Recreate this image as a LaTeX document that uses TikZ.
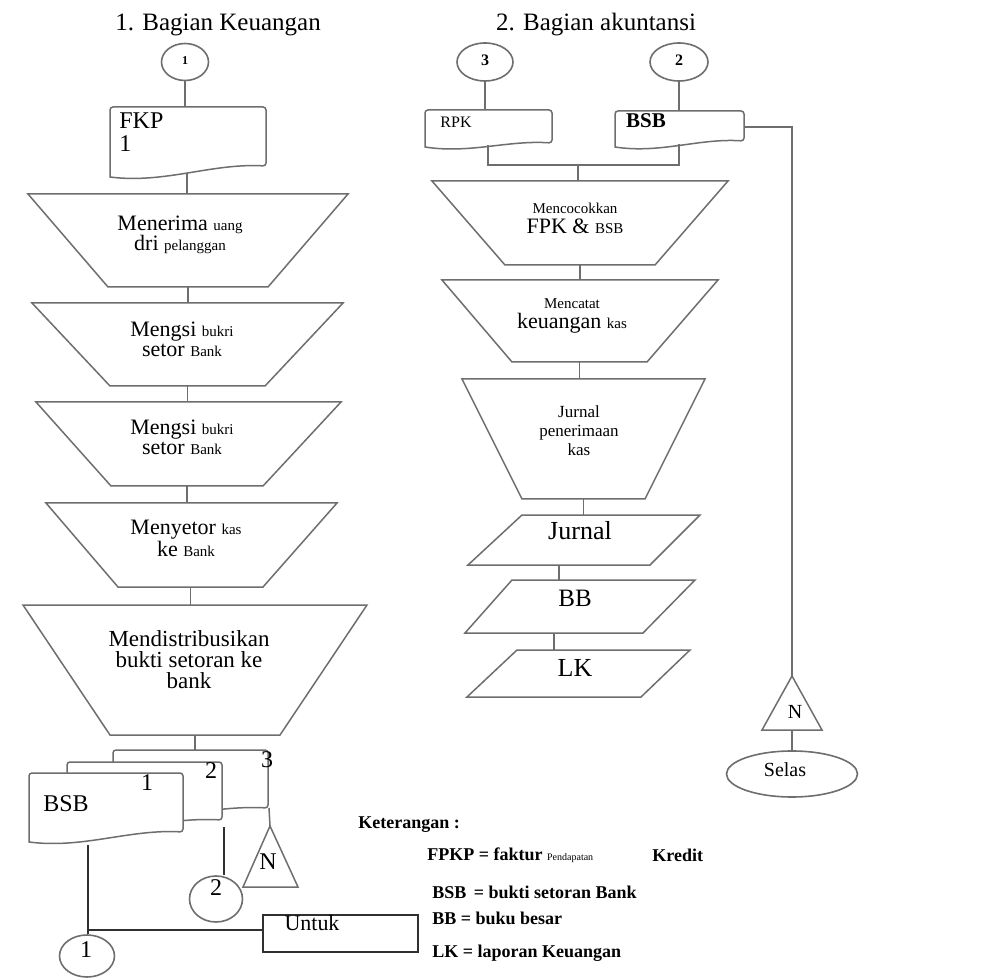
\documentclass[tikz,border=0pt]{standalone}
\usepackage{fontspec}
\setmainfont{Liberation Serif}
\usetikzlibrary{shapes.geometric,calc}
\definecolor{linec}{HTML}{6E6E6E}
\definecolor{darkc}{HTML}{303030}
\newcommand{\sm}{\fontsize{7.5}{9}\selectfont}
% document symbol: x left, y top, x right, y bottom left, y bottom right
\newcommand{\docshape}[5]{%
  \draw[shp] (#1,#4) [rounded corners=1.5pt] -- (#1,#2) -- (#3,#2) -- (#3,#5) [sharp corners]
    .. controls ({#3-0.35*(#3-#1)},#5-3) and ({#1+0.35*(#3-#1)},#4+7) .. (#1,#4) -- cycle;}
\tikzset{
  shp/.style={draw=linec,line width=0.75pt,fill=white},
  ln/.style={draw=linec,line width=0.75pt},
  lnd/.style={draw=darkc,line width=1pt},
  conn/.style={ellipse,draw=linec,line width=0.8pt,fill=white,inner sep=0pt},
  txt/.style={font=\fontsize{11}{10}\selectfont,align=center,inner sep=0pt},
  lbl/.style={font=\fontsize{12}{12}\selectfont,inner sep=0pt},
  leg/.style={font=\fontsize{9}{11}\selectfont\bfseries,anchor=west,inner sep=0pt}
}
\begin{document}
\begin{tikzpicture}[x=0.5pt,y=-0.5pt]
\useasboundingbox (0,0) rectangle (982,979);
\fill[white] (0,0) rectangle (982,979);
% titles
\node[font=\fontsize{12.5}{14}\selectfont] (ttl1) at (218,25) {1. Bagian Keuangan};
\node[font=\fontsize{12.5}{14}\selectfont] (ttl2) at (596,25) {2. Bagian akuntansi};
% process symbols (name/top/bottom/top left/top right/bottom left/bottom right)
\foreach \nm/\yt/\yb/\xa/\xb/\xc/\xd in {
  t1/194/287/28/348/108/268, t2/303/386/32/343/110/265,
  t3/402/486/36/341/111/263, t4/503/587/46/337/118/263,
  t5/605/735/23/367/110/280,
  m1/181/265/432/728/505/655, m2/280/362/442/718/512/647,
  m3/379/499/462/705/522/645,
  p1/515/565/522/700/468/650, p2/580/633/512/695/465/643,
  p3/650/697/517/690/467/641}{
  \draw[shp] (\xa,\yt) -- (\xb,\yt) -- (\xd,\yb) -- (\xc,\yb) -- cycle;
  \coordinate (\nm-n) at ({(\xa+\xb)/2},\yt);
  \coordinate (\nm-s) at ({(\xc+\xd)/2},\yb);
}
% documents
\docshape{110}{107}{266}{177}{166}
\docshape{425}{110}{552}{147}{143}
\docshape{615}{111}{744}{147}{141}
\docshape{113}{750}{268}{815}{808}
\docshape{67}{762}{222}{827}{820}
\docshape{29}{773}{183}{842}{832}
\coordinate (fkp-n) at (185,107);
\coordinate (fkp-s) at (187,173);
\coordinate (rpk-n) at (488,110);
\coordinate (rpk-s) at (488,145);
\coordinate (bsb-n) at (679,111);
\coordinate (bsb-s) at (679,144);
\coordinate (bsb-e) at (744,127);
\coordinate (jn) at (578,165);
\coordinate (d3-n) at (194,750);
\coordinate (d3-s) at (269,808);
\coordinate (d2-cut) at (224,827);
\coordinate (d1-s) at (88,845);
\coordinate (j1) at (88,930);
% merge triangles
\draw[shp] (270,826) coordinate (tri1-a) -- (298,887) -- (243,887) -- cycle;
\draw[shp] (792,676) coordinate (tri2-a) -- (822,730) -- (762,730) -- cycle;
\coordinate (tri2-b) at (792,730);
% connectors
\node[conn,minimum width=23.5pt,minimum height=18.5pt] (c1) at (185,62) {};
\node[conn,minimum width=28pt,minimum height=19pt] (c3) at (485,62) {};
\node[conn,minimum width=29pt,minimum height=19pt] (c2) at (679,62) {};
\node[conn,minimum width=27.5pt,minimum height=21pt] (cb1) at (87,956) {};
\node[conn,minimum width=26.5pt,minimum height=23pt] (cb2) at (216,899) {};
\node[conn,minimum width=65.5pt,minimum height=23pt] (sel) at (792,774) {};
\node[draw=darkc,line width=1pt,minimum width=77.5pt,minimum height=18.5pt,inner sep=0pt] (untuk) at (340.5,933.5) {};
% flow lines
\draw[ln] (c1.south) -- (c1.south |- fkp-n);
\draw[ln] (fkp-s) -- (fkp-s |- t1-n);
\draw[ln] (t1-s) -- (t1-s |- t2-n);
\draw[ln] (t2-s) -- (t2-s |- t3-n);
\draw[ln] (t3-s) -- (t3-s |- t4-n);
\draw[ln] (t4-s) -- (t4-s |- t5-n);
\draw[ln] (t5-s) -- (t5-s |- d3-n);
\draw[ln] (c3.south) -- (c3.south |- rpk-n);
\draw[ln] (c2.south) -- (c2.south |- bsb-n);
\draw[ln] (rpk-s) |- (jn) -| (bsb-s);
\draw[ln] (jn) -- (jn |- m1-n);
\draw[ln] (m1-s) -- (m1-s |- m2-n);
\draw[ln] (m2-s) -- (m2-s |- m3-n);
\draw[ln] (m3-s) -- (m3-s |- p1-n);
\draw[ln] (p1-s) -- (p1-s |- p2-n);
\draw[ln] (p2-s) -- (p2-s |- p3-n);
\draw[ln] (bsb-e) -| (tri2-a);
\draw[ln] (tri2-b) -- (sel.north);
\draw[ln] (d3-s) -- (tri1-a);
\draw[lnd] (d1-s) -- (d1-s |- cb1.north);
\draw[lnd] (j1) -- (j1 -| untuk.west);
\draw[lnd] (d2-cut) -- (d2-cut |- cb2.north);
% texts
\node[font=\fontsize{6}{7}\selectfont\bfseries] (c1t) at (185,61) {1};
\node[font=\fontsize{8}{9}\selectfont\bfseries] (c3t) at (485,60) {3};
\node[font=\fontsize{8}{9}\selectfont\bfseries] (c2t) at (679,60) {2};
\node[lbl,anchor=north west,align=left,font=\fontsize{12}{11.5}\selectfont] (fkpt) at (119,112) {FKP\\1};
\node[txt] (t1t) at (180,235) {Menerima {\sm uang}\\dri {\sm pelanggan}};
\node[txt] (t2t) at (182,339) {Mengsi {\sm bukri}\\setor {\sm Bank}};
\node[txt] (t3t) at (182,437) {Mengsi {\sm bukri}\\setor {\sm Bank}};
\node[txt] (t4t) at (186,538) {Menyetor {\sm kas}\\ke {\sm Bank}};
\node[txt,font=\fontsize{11.5}{10.5}\selectfont] (t5t) at (189,660) {Mendistribusikan\\bukti setoran ke\\bank};
\node[font=\fontsize{8}{9}\selectfont,inner sep=0pt] (rpkt) at (456,122) {RPK};
\node[font=\fontsize{10.5}{12}\selectfont\bfseries,inner sep=0pt] (bsbt) at (646,121) {BSB};
\node[txt] (m1t) at (575,218) {{\sm Mencocokkan}\\FPK \& {\sm BSB}};
\node[txt] (m2t) at (572,316) {{\sm Mencatat}\\keuangan {\sm kas}};
\node[txt,font=\fontsize{8.5}{9.5}\selectfont] (m3t) at (579,431) {Jurnal\\penerimaan\\kas};
\node[lbl,font=\fontsize{13}{14}\selectfont] (p1t) at (580,531) {Jurnal};
\node[lbl,font=\fontsize{12.5}{14}\selectfont] (p2t) at (575,598) {BB};
\node[lbl,font=\fontsize{13}{14}\selectfont] (p3t) at (575,668) {LK};
\node[lbl] (d3t) at (267,760) {3};
\node[lbl] (d2t) at (211,771) {2};
\node[lbl] (d1t) at (147,783) {1};
\node[lbl] (d1b) at (66,804) {BSB};
\node[lbl] (tri1t) at (268,862) {N};
\node[lbl] (cb2t) at (216,888) {2};
\node[lbl] (cb1t) at (86,950) {1};
\node[lbl,font=\fontsize{11}{12}\selectfont] (untukt) at (312,923) {Untuk};
\node[lbl,font=\fontsize{10}{12}\selectfont] (tri2t) at (795,712) {N};
\node[lbl,font=\fontsize{10}{12}\selectfont] (selt) at (785,770) {Selas};
% legend
\node[leg] (lg0) at (358,825) {Keterangan :};
\node[leg] (lg1) at (427,855) {FPKP = faktur {\fontsize{5}{6}\selectfont\mdseries Pendapatan}};
\node[leg] (lg1b) at (652,855) {Kredit};
\node[leg] (lg2) at (432,892) {BSB \,= bukti setoran Bank};
\node[leg] (lg3) at (432,918) {BB = buku besar};
\node[leg] (lg4) at (432,953) {LK = laporan Keuangan};
\end{tikzpicture}
\end{document}
